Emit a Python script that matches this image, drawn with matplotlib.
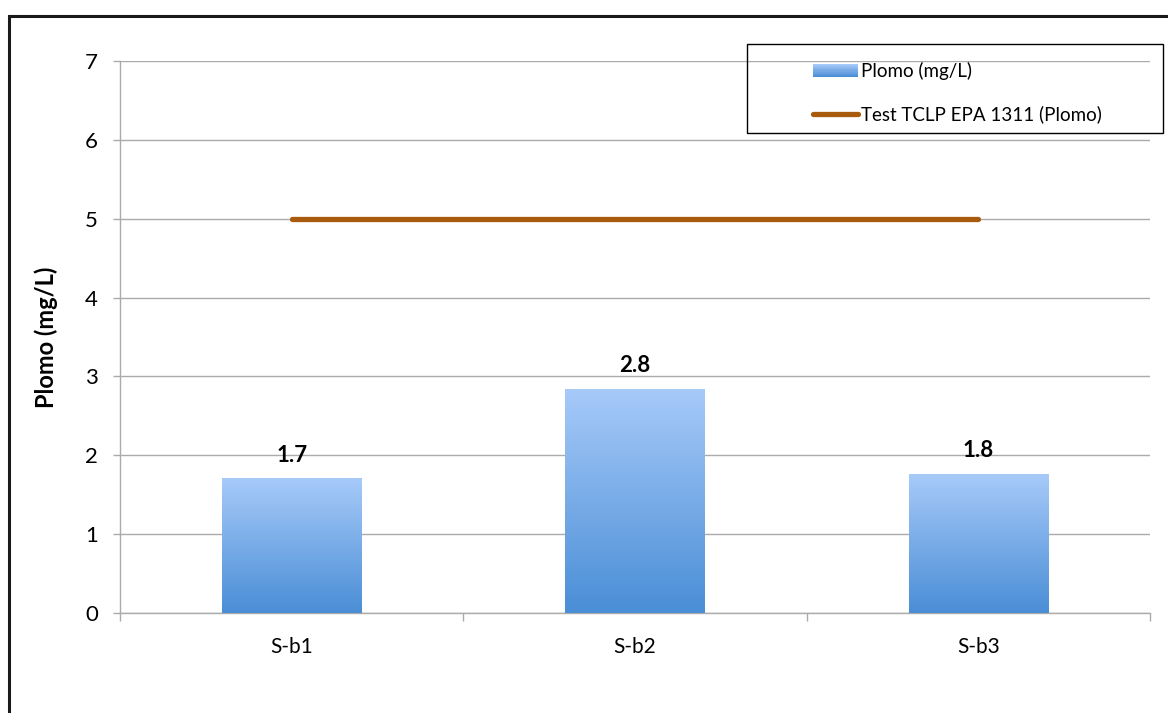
import numpy as np
import matplotlib
matplotlib.use("Agg")
import matplotlib.pyplot as plt
from matplotlib.patches import Rectangle
from matplotlib.colors import LinearSegmentedColormap
from matplotlib.legend_handler import HandlerBase
from matplotlib.lines import Line2D

# Data
samples = ["S-b1", "S-b2", "S-b3"]
plomo = [1.70, 2.84, 1.76]
tclp_limit = [5, 5, 5]
y_ticks = [0, 1, 2, 3, 4, 5, 6, 7]

plt.rcParams["font.family"] = ["Lato", "DejaVu Sans"]

top_col = "#A7CAF9"
bot_col = "#4A8ED6"
grad = LinearSegmentedColormap.from_list("bluegrad", [bot_col, top_col])
line_col = "#A95B0D"
grid_col = "#ABABAB"

fig = plt.figure(figsize=(11.68, 7.13), dpi=100)
ax = fig.add_axes([120 / 1168, 1 - 613 / 713, 1030 / 1168, 552 / 713])

x = np.arange(len(samples))
bars = ax.bar(x, plomo, width=0.405, color="none", edgecolor="none", zorder=3)

# Vertical gradient fill for each bar
gimg = np.linspace(0, 1, 256).reshape(-1, 1)
for b in bars:
    x0, y0 = b.get_x(), b.get_y()
    w, h = b.get_width(), b.get_height()
    ax.imshow(gimg, cmap=grad, origin="lower", aspect="auto",
              extent=[x0, x0 + w, y0, y0 + h], zorder=3, interpolation="bilinear")

for xi, v in zip(x, plomo):
    ax.text(xi, v + 0.17, f"{v:.1f}", ha="center", va="bottom",
            fontsize=16, fontweight="bold", color="black", zorder=5)

ax.plot(x, tclp_limit, color=line_col, lw=3.8, solid_capstyle="round", zorder=4)

ax.set_xlim(-0.5, len(samples) - 0.5)
ax.set_ylim(0, 7)
ax.set_yticks(y_ticks)
ax.set_yticklabels([str(t) for t in y_ticks], fontsize=16)
ax.set_xticks(x)
ax.set_xticklabels(samples, fontsize=15)
ax.tick_params(axis="x", length=0, pad=17)
ax.set_xticks(np.arange(-0.5, len(samples), 1.0), minor=True)
ax.tick_params(axis="x", which="minor", length=6, color=grid_col, width=1)
ax.tick_params(axis="y", length=5, color=grid_col, width=1, pad=11)

ax.grid(axis="y", color=grid_col, lw=1, zorder=0)
ax.set_axisbelow(True)
for s in ["top", "right"]:
    ax.spines[s].set_visible(False)
for s in ["left", "bottom"]:
    ax.spines[s].set_color(grid_col)
    ax.spines[s].set_linewidth(1)

ax.set_ylabel("Plomo (mg/L)", fontsize=17, fontweight="bold")
ax.yaxis.set_label_coords(-0.06, 0.5)


class GradientPatchHandler(HandlerBase):
    def create_artists(self, legend, orig_handle, xdescent, ydescent,
                       width, height, fontsize, trans):
        arts = []
        n = 12
        for i in range(n):
            c = grad(i / (n - 1))
            r = Rectangle((-xdescent, -ydescent + height * i / n), width, height / n + 0.2,
                          facecolor=c, edgecolor="none", transform=trans)
            arts.append(r)
        return arts


bar_handle = Rectangle((0, 0), 1, 1)
line_handle = Line2D([0], [0], color=line_col, lw=3.8, solid_capstyle="round")

leg = fig.legend([bar_handle, line_handle],
                 ["Plomo (mg/L)", "Test TCLP EPA 1311 (Plomo)"],
                 handler_map={Rectangle: GradientPatchHandler()},
                 loc="upper left", bbox_to_anchor=(813 / 1168, 1 - 62 / 713),
                 frameon=False, fontsize=13.5, handlelength=2.4, handleheight=0.65,
                 handletextpad=0.15, labelspacing=1.35, borderpad=0, borderaxespad=0)

# Legend frame
fig.patches.append(Rectangle((747 / 1168, 1 - 133 / 713), 416 / 1168, 89 / 713,
                             transform=fig.transFigure, fill=False,
                             edgecolor="black", lw=1.0, zorder=10))

# Outer chart frame
fig.patches.append(Rectangle((9 / 1168, -0.2), 1.5, 1.2 - 16 / 713,
                             transform=fig.transFigure, fill=False,
                             edgecolor="#1a1a1a", lw=2.2, zorder=10))

fig.savefig("out.png", dpi=100)
